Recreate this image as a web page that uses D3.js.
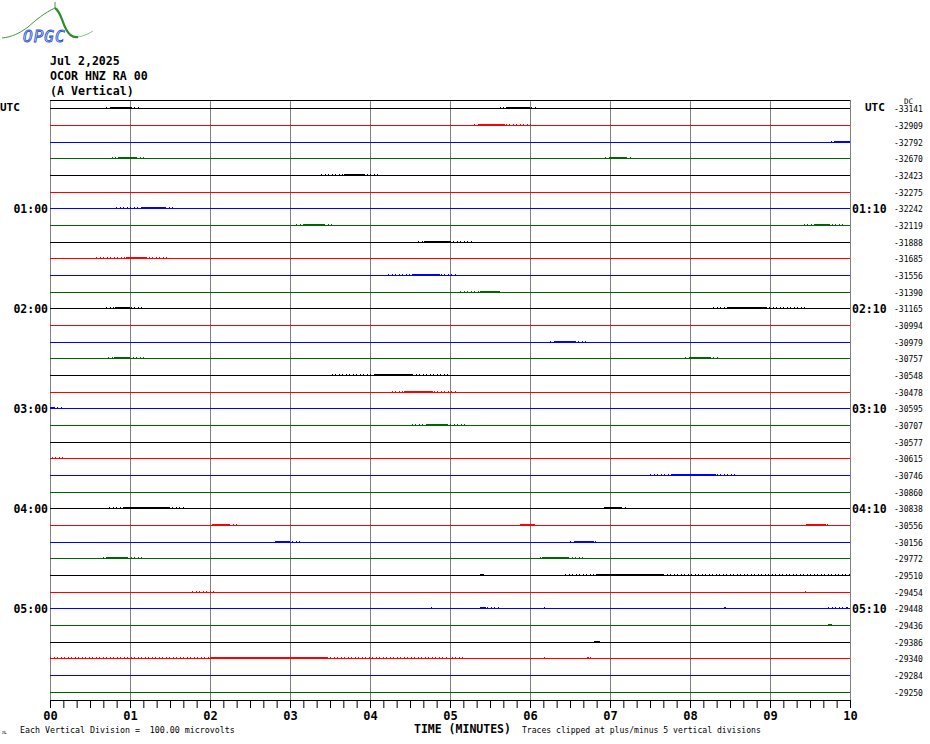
<!DOCTYPE html>
<html><head><meta charset="utf-8">
<script src="https://cdn.jsdelivr.net/npm/d3@7/dist/d3.min.js"></script>
<style>
html,body{margin:0;padding:0;background:#fff;}
svg{display:block;}
text{font-family:"DejaVu Sans Mono",monospace;}
</style></head>
<body>
<svg id="chart" width="930" height="744"></svg>
<script>
// ---------- DATA ----------
const titleLines = ["Jul 2,2025", "OCOR HNZ RA 00", "(A Vertical)"];
const traceColors = ["#000000", "#ff0000", "#0000ff", "#006600"];
const dcOffsets = [-33141,-32909,-32792,-32670,-32423,-32275,-32242,-32119,-31888,-31685,-31556,-31390,
  -31165,-30994,-30979,-30757,-30548,-30478,-30595,-30707,-30577,-30615,-30746,-30860,
  -30838,-30556,-30156,-29772,-29510,-29454,-29448,-29436,-29386,-29340,-29284,-29250];
const leftHourRows = [6, 12, 18, 24, 30];
const leftHourLabels = ["01:00", "02:00", "03:00", "04:00", "05:00"];
const rightHourLabels = ["01:10", "02:10", "03:10", "04:10", "05:10"];
const minuteLabels = ["00","01","02","03","04","05","06","07","08","09","10"];
// bursts: [row, scatterStart, scatterEnd, denseStart, denseEnd] (minutes)
const bursts = [
  [0, 0.70, 1.13, 0.75, 1.02], [0, 5.62, 6.10, 5.70, 6.00],
  [1, 5.30, 6.04, 5.35, 5.69],
  [2, 9.76, 10.0, 9.80, 10.0],
  [3, 0.77, 1.21, 0.85, 1.08], [3, 6.94, 7.29, 7.00, 7.20],
  [4, 3.39, 4.11, 3.67, 3.94],
  [6, 0.83, 1.57, 1.15, 1.44],
  [7, 3.08, 3.56, 3.17, 3.42], [7, 9.42, 9.94, 9.55, 9.75],
  [8, 4.60, 5.30, 4.67, 5.00],
  [9, 0.58, 1.48, 0.95, 1.21],
  [10, 4.23, 5.09, 4.52, 4.88],
  [11, 5.13, 5.65, 5.38, 5.62],
  [12, 0.70, 1.15, 0.81, 1.00], [12, 8.29, 9.46, 8.46, 8.96],
  [14, 6.25, 6.73, 6.31, 6.56],
  [15, 0.73, 1.21, 0.80, 1.00], [15, 7.94, 8.38, 8.00, 8.25],
  [16, 3.52, 5.00, 4.06, 4.54],
  [17, 4.27, 5.10, 4.42, 4.79],
  [18, 0.00, 0.17, 0.00, 0.05],
  [19, 4.52, 5.21, 4.71, 4.98],
  [21, 0.02, 0.19, 0.02, 0.03],
  [22, 7.50, 8.60, 7.77, 8.33],
  [24, 0.74, 1.70, 0.92, 1.50], [24, 6.92, 7.22, 6.92, 7.15],
  [25, 2.02, 2.35, 2.02, 2.25], [25, 5.88, 6.10, 5.88, 6.06], [25, 9.45, 9.73, 9.45, 9.70],
  [26, 2.81, 3.13, 2.81, 3.00], [26, 6.50, 6.83, 6.55, 6.80],
  [27, 0.66, 1.19, 0.70, 0.98], [27, 6.13, 6.68, 6.15, 6.47],
  [28, 5.38, 5.43, 5.38, 5.43], [28, 6.44, 10.0, 6.83, 7.67],
  [29, 1.78, 2.05, 1.78, 1.79], [29, 9.44, 9.45, 9.44, 9.45],
  [30, 4.76, 4.78, 4.76, 4.78], [30, 5.38, 5.62, 5.38, 5.45], [30, 6.18, 6.19, 6.18, 6.19],
  [30, 8.43, 8.45, 8.43, 8.45], [30, 9.73, 9.98, 9.95, 9.98],
  [31, 9.72, 9.78, 9.72, 9.78],
  [32, 6.80, 6.88, 6.80, 6.88],
  [33, 0.00, 4.98, 2.00, 3.46], [33, 5.02, 5.19, 5.02, 5.03], [33, 6.17, 6.18, 6.17, 6.18], [33, 6.71, 6.77, 6.71, 6.74]
];

// ---------- LAYOUT ----------
const svg = d3.select("#chart");
const nRows = dcOffsets.length;
const x = d3.scaleLinear().domain([0, 10]).range([50, 850]);
const yBand = d3.scaleBand().domain(d3.range(nRows)).range([100, 700]);
const yc = i => Math.round(yBand(i) + yBand.bandwidth() / 2) + 0.5;
const color = i => traceColors[i % traceColors.length];

// Logo
const logo = svg.append("g");
logo.append("path")
  .attr("d", "M2,38 C12,37 20,33 28,27 C36,20 44,13 55,8")
  .attr("fill", "none").attr("stroke", "#3a9a3a").attr("stroke-width", 1);
logo.append("path")
  .attr("d", "M55,8 C61,12 62,22 66,29 C69,35 73,38 78,37")
  .attr("fill", "none").attr("stroke", "#2e8b2e").attr("stroke-width", 2.2);
logo.append("path")
  .attr("d", "M78,37 C84,36 88,34 93,31")
  .attr("fill", "none").attr("stroke", "#8ac88a").attr("stroke-width", 1);
logo.append("line").attr("x1", 55).attr("x2", 55).attr("y1", 2).attr("y2", 8)
  .attr("stroke", "#3a9a3a");
logo.append("text").attr("x", 23).attr("y", 42).text("OPGC")
  .attr("font-family", "DejaVu Sans").attr("font-style", "italic")
  .attr("font-size", 16).attr("fill", "#ffffff").attr("stroke", "#1f4fd0").attr("stroke-width", 0.9)
  .attr("letter-spacing", 1);

// Title
svg.selectAll("text.title").data(titleLines).join("text")
  .attr("class", "title")
  .attr("x", 50).attr("y", (d, i) => 65 + i * 15)
  .attr("font-size", 11.6).attr("font-weight", "bold").text(d => d);

// Vertical minute grid
svg.append("g").selectAll("line").data(d3.range(0, 11)).join("line")
  .attr("x1", d => Math.round(x(d)) + 0.5).attr("x2", d => Math.round(x(d)) + 0.5)
  .attr("y1", 100).attr("y2", 700)
  .attr("stroke", "#808080").attr("stroke-width", 1)
  .attr("shape-rendering", "crispEdges");

// top border
svg.append("line").attr("x1", 50).attr("x2", 850).attr("y1", 100.5).attr("y2", 100.5)
  .attr("stroke", "#000").attr("shape-rendering", "crispEdges");

// traces
svg.append("g").selectAll("line").data(d3.range(nRows)).join("line")
  .attr("x1", x(0)).attr("x2", x(10))
  .attr("y1", d => yc(d)).attr("y2", d => yc(d))
  .attr("stroke", d => color(d)).attr("stroke-width", 1)
  .attr("shape-rendering", "crispEdges");

// bursts - scattered part
const bg = svg.append("g");
bg.selectAll("line.sc").data(bursts).join("line").attr("class", "sc")
  .attr("x1", d => x(d[1])).attr("x2", d => x(d[2]))
  .attr("y1", d => yc(d[0]) - 0.5).attr("y2", d => yc(d[0]) - 0.5)
  .attr("stroke", d => color(d[0])).attr("stroke-width", 2)
  .attr("stroke-dasharray", "1,2.5").attr("shape-rendering", "crispEdges");
// dense part
bg.selectAll("rect.dn").data(bursts).join("rect").attr("class", "dn")
  .attr("x", d => x(d[3])).attr("width", d => Math.max(1, x(d[4]) - x(d[3])))
  .attr("y", d => yc(d[0]) - 1.5).attr("height", 2)
  .attr("fill", d => color(d[0])).attr("shape-rendering", "crispEdges");

// Left / right time labels
svg.append("text").attr("x", 0).attr("y", 111).attr("font-size", 11).attr("font-weight", "bold").text("UTC");
svg.append("text").attr("x", 865).attr("y", 111).attr("font-size", 11).attr("font-weight", "bold").text("UTC");
svg.append("g").selectAll("text").data(leftHourRows).join("text")
  .attr("x", 48).attr("y", d => yc(d) + 4.5).attr("text-anchor", "end")
  .attr("font-size", 11.5).attr("font-weight", "bold").text((d, i) => leftHourLabels[i]);
svg.append("g").selectAll("text").data(leftHourRows).join("text")
  .attr("x", 852).attr("y", d => yc(d) + 4.5)
  .attr("font-size", 11.5).attr("font-weight", "bold").text((d, i) => rightHourLabels[i]);

// DC offsets
svg.append("text").attr("x", 904).attr("y", 104).attr("font-size", 7.5).text("DC");
svg.append("g").selectAll("text").data(dcOffsets).join("text")
  .attr("x", 894).attr("y", (d, i) => yc(i) + 3)
  .attr("font-size", 8).text(d => String(d));

// Bottom axis
const axis = d3.axisBottom(x)
  .tickValues(d3.range(0, 61).map(s => s / 6))
  .tickSize(8).tickSizeOuter(0)
  .tickFormat((d, i) => (i % 6 === 0 ? minuteLabels[i / 6] : ""));
const ag = svg.append("g").attr("transform", "translate(0,700)").call(axis);
ag.select(".domain").attr("stroke", "#000");
ag.selectAll(".tick line").attr("stroke", "#000");
ag.selectAll(".tick text").attr("font-family", "DejaVu Sans Mono").attr("font-size", 12)
  .attr("font-weight", "bold").attr("fill", "#000");

svg.append("text").attr("x", 414).attr("y", 733).attr("font-size", 11.5).attr("font-weight", "bold")
  .text("TIME (MINUTES)");
svg.append("text").attr("x", 20).attr("y", 733).attr("font-size", 8.3)
  .text("Each Vertical Division =  100.00 microvolts").style("white-space", "pre");
svg.append("text").attr("x", 522).attr("y", 733).attr("font-size", 8.1)
  .text("Traces clipped at plus/minus 5 vertical divisions");
svg.append("text").attr("x", 2).attr("y", 734).attr("font-size", 6).text("ᴊʟ");
</script>
</body></html>
